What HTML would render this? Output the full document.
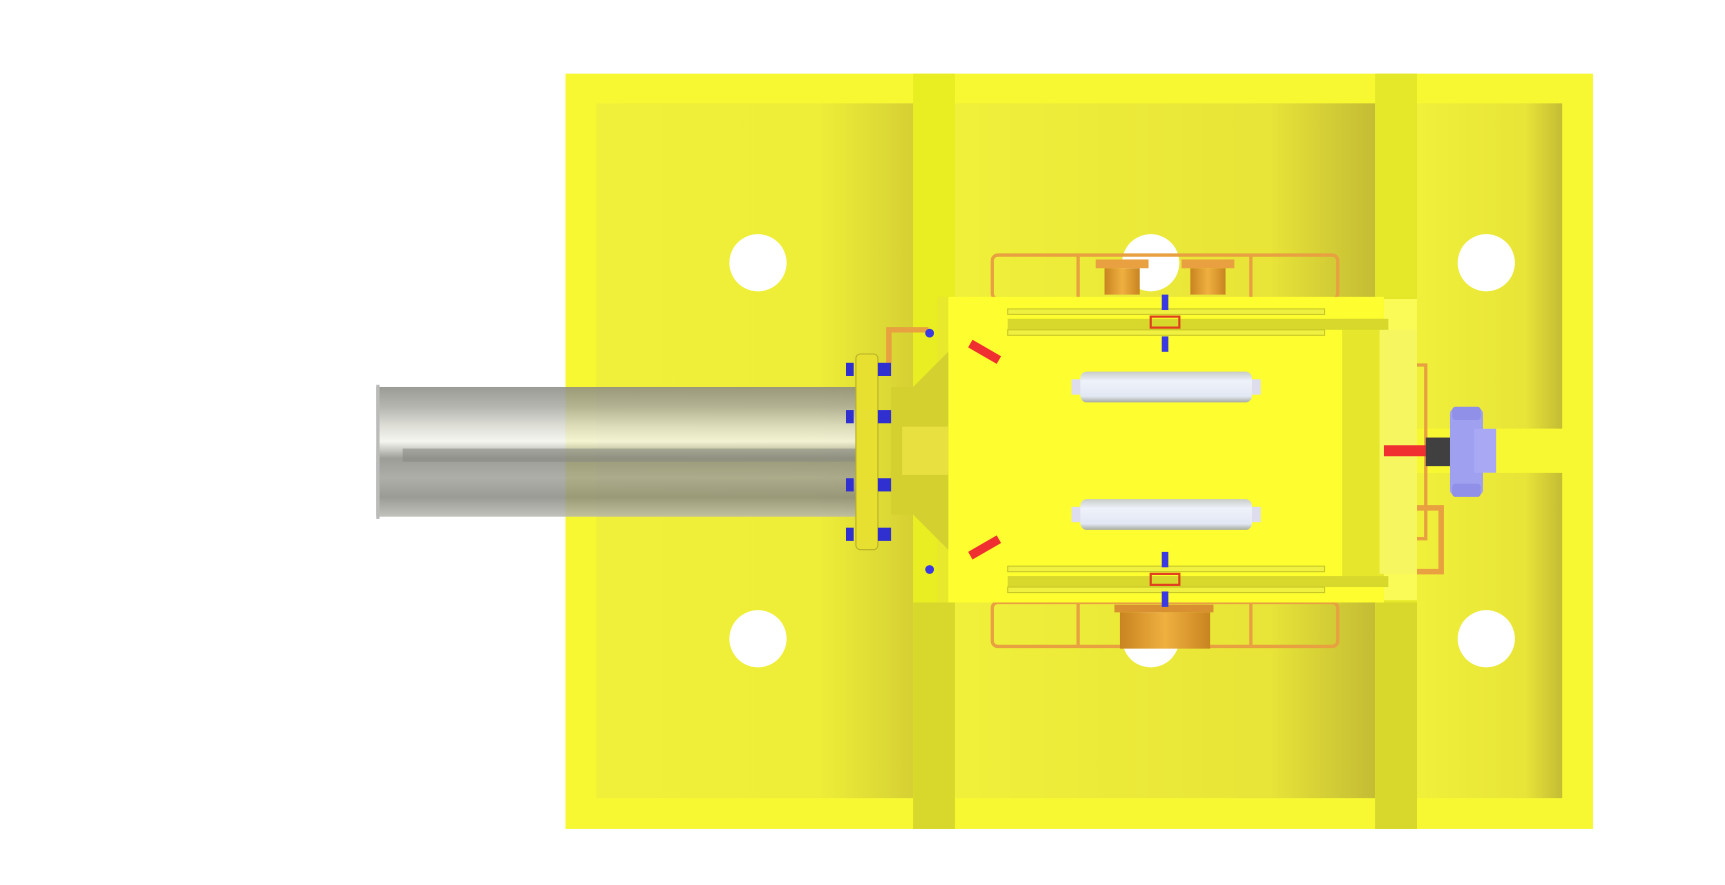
<!DOCTYPE html>
<html><head><style>html,body{margin:0;padding:0;background:#fff;overflow:hidden}svg{display:block}</style></head>
<body>
<svg width="1725" height="885" viewBox="0 0 1568 805" preserveAspectRatio="none" xmlns="http://www.w3.org/2000/svg">
<defs>
<linearGradient id="pan" x1="0" y1="0" x2="1" y2="0">
<stop offset="0" stop-color="#f0f03a"/><stop offset="0.7" stop-color="#eeee38"/><stop offset="1" stop-color="#d6d034"/></linearGradient>
<linearGradient id="pan2" x1="0" y1="0" x2="1" y2="0">
<stop offset="0" stop-color="#f0f03a"/><stop offset="0.75" stop-color="#e8e438"/><stop offset="1" stop-color="#c4bc34"/></linearGradient>
<linearGradient id="pipe" x1="0" y1="0" x2="0" y2="1">
<stop offset="0" stop-color="#8a8a84"/><stop offset="0.15" stop-color="#a8a8a2"/><stop offset="0.3" stop-color="#d8d8d0"/><stop offset="0.42" stop-color="#f4f4ee"/><stop offset="0.55" stop-color="#8c8c86"/><stop offset="0.7" stop-color="#a0a09a"/><stop offset="0.85" stop-color="#8a8a84"/><stop offset="1" stop-color="#b8b8b0"/></linearGradient>
<linearGradient id="cyl" x1="0" y1="0" x2="0" y2="1">
<stop offset="0" stop-color="#c8ccc8"/><stop offset="0.3" stop-color="#eef2fa"/><stop offset="0.8" stop-color="#e2e8f4"/><stop offset="1" stop-color="#a8aca0"/></linearGradient>
<linearGradient id="org" x1="0" y1="0" x2="1" y2="0">
<stop offset="0" stop-color="#c88420"/><stop offset="0.5" stop-color="#f0b040"/><stop offset="1" stop-color="#c88420"/></linearGradient>
</defs>
<rect x="514" y="67" width="934" height="687" fill="#f8f832"/>
<rect x="542" y="94" width="288" height="632" fill="url(#pan)"/>
<rect x="868" y="94" width="382" height="632" fill="url(#pan2)"/>
<rect x="1288" y="94" width="132" height="296" fill="url(#pan2)"/>
<rect x="1288" y="430" width="132" height="296" fill="url(#pan2)"/>
<rect x="1288" y="390" width="152" height="40" fill="#f8f832"/>
<rect x="830" y="67" width="38" height="687" fill="#e8ee22"/>
<rect x="1250" y="67" width="38" height="687" fill="#e4e828"/>
<rect x="830" y="548" width="38" height="206" fill="#d8d82c"/>
<rect x="1250" y="548" width="38" height="206" fill="#d8d82c"/>
<g fill="#fff">
<circle cx="689" cy="239" r="26"/><circle cx="1046" cy="239" r="26"/><circle cx="1351" cy="239" r="26"/>
<circle cx="689" cy="581" r="26"/><circle cx="1046" cy="581" r="26"/><circle cx="1351" cy="581" r="26"/>
</g>
<g fill="none" stroke="#e8a040" stroke-width="3">
<rect x="902" y="232" width="314" height="40" rx="5"/>
<rect x="902" y="548" width="314" height="40" rx="5"/>
<line x1="980" y1="232" x2="980" y2="272"/><line x1="1137" y1="232" x2="1137" y2="272"/>
<line x1="980" y1="548" x2="980" y2="588"/><line x1="1137" y1="548" x2="1137" y2="588"/>
<path d="M1288 332 h8 v158 h-8"/>
<path d="M1288 462 h22 v58 h-22" stroke-width="5"/>
<path d="M808 330 v-30 h36" stroke-width="5"/>
</g>
<rect x="996" y="236" width="48" height="8" fill="#e8a040"/>
<rect x="1004" y="244" width="32" height="24" fill="url(#org)"/>
<rect x="1074" y="236" width="48" height="8" fill="#e8a040"/>
<rect x="1082" y="244" width="32" height="24" fill="url(#org)"/>
<rect x="1013" y="550" width="90" height="7" fill="#d89030"/>
<rect x="1018" y="557" width="82" height="33" fill="url(#org)"/>
<rect x="852" y="270" width="10" height="278" fill="#e8e82c"/>
<rect x="862" y="270" width="396" height="278" fill="#fdfd30"/>
<rect x="1220" y="290" width="38" height="240" fill="#e6e62c"/>
<rect x="1258" y="272" width="30" height="274" fill="#fbfb58"/>
<rect x="1254" y="300" width="34" height="222" fill="#f6f660"/>
<rect x="916" y="281" width="288" height="5" fill="#f0f040" stroke="#c8c828" stroke-width="1"/>
<rect x="916" y="290" width="346" height="10" fill="#d8d82c"/>
<rect x="916" y="300" width="288" height="5" fill="#f0f040" stroke="#c8c828" stroke-width="1"/>
<rect x="916" y="515" width="288" height="5" fill="#f0f040" stroke="#c8c828" stroke-width="1"/>
<rect x="916" y="524" width="346" height="10" fill="#d8d82c"/>
<rect x="916" y="534" width="288" height="5" fill="#f0f040" stroke="#c8c828" stroke-width="1"/>
<rect x="1046" y="288" width="26" height="10" fill="none" stroke="#e04020" stroke-width="2"/>
<rect x="1046" y="522" width="26" height="10" fill="none" stroke="#e04020" stroke-width="2"/>
<g fill="#3a3ae0">
<rect x="1056" y="268" width="6" height="14"/><rect x="1056" y="306" width="6" height="14"/>
<rect x="1056" y="502" width="6" height="14"/><rect x="1056" y="538" width="6" height="14"/>
<circle cx="845" cy="303" r="4"/><circle cx="845" cy="518" r="4"/>
</g>
<g fill="#f03030">
<rect x="880" y="316" width="30" height="8" transform="rotate(30 895 320)"/>
<rect x="880" y="494" width="30" height="8" transform="rotate(-30 895 498)"/>
<rect x="1258" y="405" width="50" height="10"/>
</g>
<rect x="974" y="345" width="10" height="14" fill="#dde"/>
<rect x="1136" y="345" width="10" height="14" fill="#dde"/>
<rect x="982" y="338" width="156" height="28" rx="6" fill="url(#cyl)"/>
<rect x="974" y="461" width="10" height="14" fill="#dde"/>
<rect x="1136" y="461" width="10" height="14" fill="#dde"/>
<rect x="982" y="454" width="156" height="28" rx="6" fill="url(#cyl)"/>
<polygon points="810,352 830,352 862,320 862,500 830,468 810,468" fill="#d4d030"/>
<rect x="820" y="388" width="42" height="44" fill="#e8e040"/>
<rect x="342" y="352" width="440" height="118" fill="url(#pipe)" opacity="0.85"/>
<rect x="342" y="350" width="3" height="122" fill="#bbb"/>
<rect x="366" y="408" width="416" height="12" fill="#8a8a84" opacity="0.6"/>
<rect x="778" y="322" width="20" height="178" rx="4" fill="#e8e030" stroke="#b8b028"/>
<g fill="#3030d0">
<rect x="769" y="330" width="7" height="12"/><rect x="769" y="373" width="7" height="12"/>
<rect x="769" y="435" width="7" height="12"/><rect x="769" y="480" width="7" height="12"/>
<rect x="798" y="330" width="12" height="12"/><rect x="798" y="373" width="12" height="12"/>
<rect x="798" y="435" width="12" height="12"/><rect x="798" y="480" width="12" height="12"/>
</g>
<rect x="1296" y="398" width="34" height="26" fill="#404040"/>
<rect x="1318" y="372" width="30" height="78" rx="4" fill="#a0a0f0"/>
<rect x="1320" y="370" width="26" height="12" rx="3" fill="#9090e8"/>
<rect x="1320" y="440" width="26" height="12" rx="3" fill="#9090e8"/>
<rect x="1340" y="390" width="20" height="40" fill="#a8a8f4"/>
</svg>
</body></html>
